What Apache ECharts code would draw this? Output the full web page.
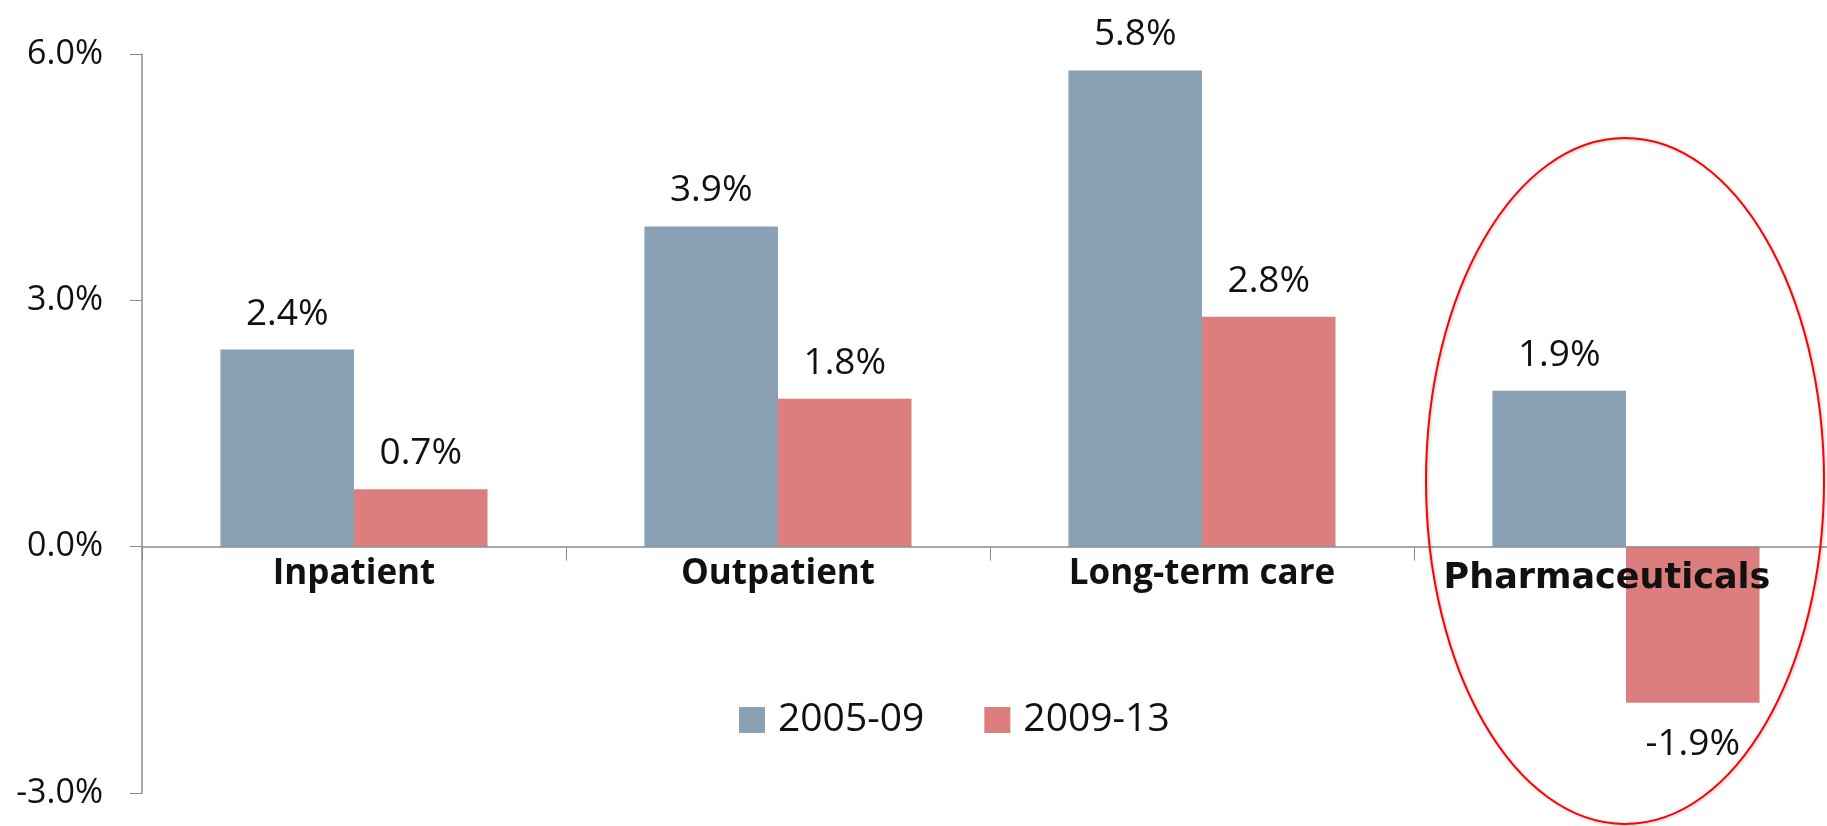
<!DOCTYPE html>
<html>
<head>
<meta charset="utf-8">
<title>Spending growth</title>
<script src="https://cdn.jsdelivr.net/npm/echarts@6/dist/echarts.min.js"></script>
<style>
  html, body {margin:0;padding:0;background:#fff;}
  #chart {width:1827px;height:826px;}
</style>
</head>
<body>
<div id="chart"></div>
<script>
var categories = ['Inpatient', 'Outpatient', 'Long-term care', 'Pharmaceuticals'];
var seriesNames = ['2005-09', '2009-13'];
var growth0509 = [2.4, 3.9, 5.8, 1.9];
var growth0913 = [0.7, 1.8, 2.8, -1.9];
var yTicks = {min: -3, max: 6, step: 3};

var colors = ['#8aa0b4', '#dc7e7e'];
var font = '"Open Sans", sans-serif';

// negative bars get their label underneath
function toData(arr) {
  return arr.map(function (v) {
    return {value: v, label: v < 0 ? {position: 'bottom', distance: 23} : {position: 'top', distance: 17}};
  });
}

function barSeries(name, arr, color) {
  return {
    name: name,
    type: 'bar',
    data: toData(arr),
    barGap: '0%',
    barCategoryGap: '37%',
    itemStyle: {color: color},
    label: {
      show: true,
      fontFamily: font,
      fontSize: 37,
      color: '#111',
      formatter: function (p) { return p.value.toFixed(1) + '%'; }
    }
  };
}

var chart = echarts.init(document.getElementById('chart'));
chart.setOption({
  animation: false,
  grid: {left: 142, right: -11, top: 54, bottom: 33, containLabel: false, outerBoundsMode: 'none'},
  legend: {
    data: seriesNames,
    left: 734,
    top: 693,
    icon: 'rect',
    itemWidth: 26,
    itemHeight: 26,
    itemGap: 60,
    textStyle: {fontFamily: font, fontSize: 39, lineHeight: 44, color: '#111', padding: [0, 0, 0, 8]}
  },
  xAxis: {
    type: 'category',
    data: categories,
    z: 3,
    axisLine: {onZero: true, lineStyle: {color: '#8c8c8c', width: 1.5}},
    axisTick: {show: true, interval: 0, length: 14, lineStyle: {color: '#8c8c8c'}},
    // labels stay at the grid bottom, so pull them up under the zero line
    axisLabel: {
      interval: 0, hideOverlap: false,
      fontFamily: font, fontWeight: 'bold', fontSize: 35, color: '#111', margin: -236,
      formatter: function (v) { return v === 'Pharmaceuticals' ? '{wide|' + v + '}' : v; },
      rich: {wide: {fontFamily: '"DejaVu Sans", sans-serif', fontWeight: 'bold', fontSize: 35, color: '#111', padding: [4, 38, 0, 0]}}
    }
  },
  yAxis: {
    type: 'value',
    min: yTicks.min,
    max: yTicks.max,
    interval: yTicks.step,
    splitLine: {show: false},
    axisLine: {show: true, lineStyle: {color: '#8c8c8c', width: 1.5}},
    axisTick: {show: true, length: 12, lineStyle: {color: '#8c8c8c'}},
    axisLabel: {
      fontFamily: font, fontSize: 34, color: '#111', margin: 39,
      formatter: function (v) { return v.toFixed(1) + '%'; }
    }
  },
  series: [
    barSeries(seriesNames[0], growth0509, colors[0]),
    barSeries(seriesNames[1], growth0913, colors[1])
  ],
  graphic: [{
    type: 'ellipse',
    z: 10,
    shape: {cx: 1625, cy: 481, rx: 199, ry: 343},
    style: {fill: 'none', stroke: '#ff0000', lineWidth: 2, shadowBlur: 3, shadowColor: 'rgba(0,0,0,0.25)', shadowOffsetX: 1, shadowOffsetY: 1}
  }]
});
</script>
</body>
</html>
